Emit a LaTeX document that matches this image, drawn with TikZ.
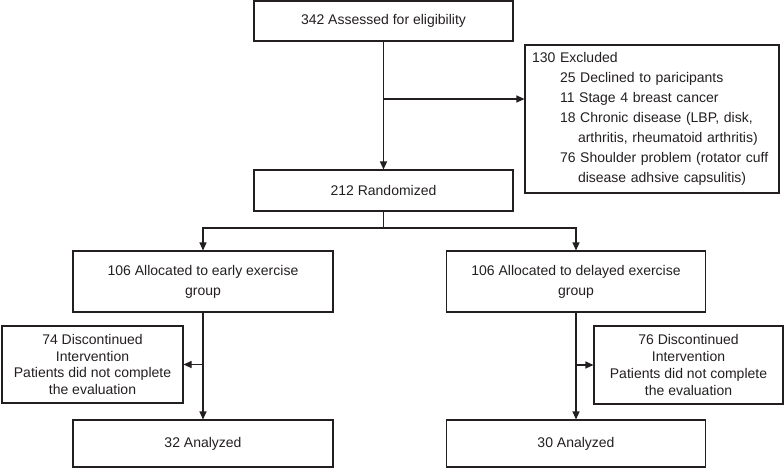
\documentclass[tikz,border=0pt]{standalone}
\usepackage{fontspec}
\setmainfont{Liberation Sans}
\usetikzlibrary{arrows.meta}
\definecolor{ink}{HTML}{231F20}

\begin{document}
\begin{tikzpicture}[x=1pt,y=-1pt,
    box/.style={draw=ink, text=ink, line width=1.1pt, align=center, inner sep=0pt,
        font=\fontsize{14}{20}\selectfont},
    flow/.style={draw=ink, line width=1.1pt, -{Triangle[length=8pt,width=7pt]}},
    link/.style={draw=ink, line width=1.1pt}]
\useasboundingbox (0,0) rectangle (784,468);

% enrolment column
\node (assess) [box, minimum width=259pt, minimum height=40pt] at (383.5,21)
    {342 Assessed for eligibility};
\node (rand) [box, minimum width=259pt, minimum height=41pt] at (383.5,190.5)
    {212 Randomized};
\node (excl) [box, align=left, text width=240pt, inner xsep=7pt,
    minimum height=148pt] at (652,119)
    {130 Excluded\\
     \hspace*{28pt}25 Declined to paricipants\\
     \hspace*{28pt}11 Stage 4 breast cancer\\
     \hspace*{28pt}18 Chronic disease (LBP, disk,\\
     \hspace*{46pt}arthritis, rheumatoid arthritis)\\
     \hspace*{28pt}76 Shoulder problem (rotator cuff\\
     \hspace*{46pt}disease adhsive capsulitis)};

% the two arms
\node (early) [box, minimum width=260pt, minimum height=61pt] at (203,281.5)
    {106 Allocated to early exercise\\group};
\node (delay) [box, minimum width=259pt, minimum height=61pt] at (576,281.5)
    {106 Allocated to delayed exercise\\group};
\node (stopA) [box, font=\fontsize{14}{16.7}\selectfont,
    minimum width=181pt, minimum height=77pt] at (92.5,364.5)
    {74 Discontinued\\Intervention\\Patients did not complete\\the evaluation};
\node (stopB) [box, font=\fontsize{14}{16.7}\selectfont,
    minimum width=189pt, minimum height=78pt] at (688.5,365)
    {76 Discontinued\\Intervention\\Patients did not complete\\the evaluation};
\node (doneA) [box, minimum width=260pt, minimum height=47pt] at (203,443.5)
    {32 Analyzed};
\node (doneB) [box, minimum width=259pt, minimum height=47pt] at (576,443.5)
    {30 Analyzed};

% connectors
\coordinate (exsplit) at (383.5,99);
\coordinate (split) at (383.5,228);
\draw[flow] (assess.south) -- (rand.north);
\draw[flow] (exsplit) -- (exsplit -| excl.west);
\draw[link] (rand.south) -- (split);
\draw[flow] (split) -| (early.north);
\draw[flow] (split) -| (delay.north);
\draw[flow] (early.south) -- (doneA.north);
\draw[flow] (delay.south) -- (doneB.north);
\draw[flow] (early.south |- stopA.east) -- (stopA.east);
\draw[flow] (delay.south |- stopB.west) -- (stopB.west);

\end{tikzpicture}
\end{document}
